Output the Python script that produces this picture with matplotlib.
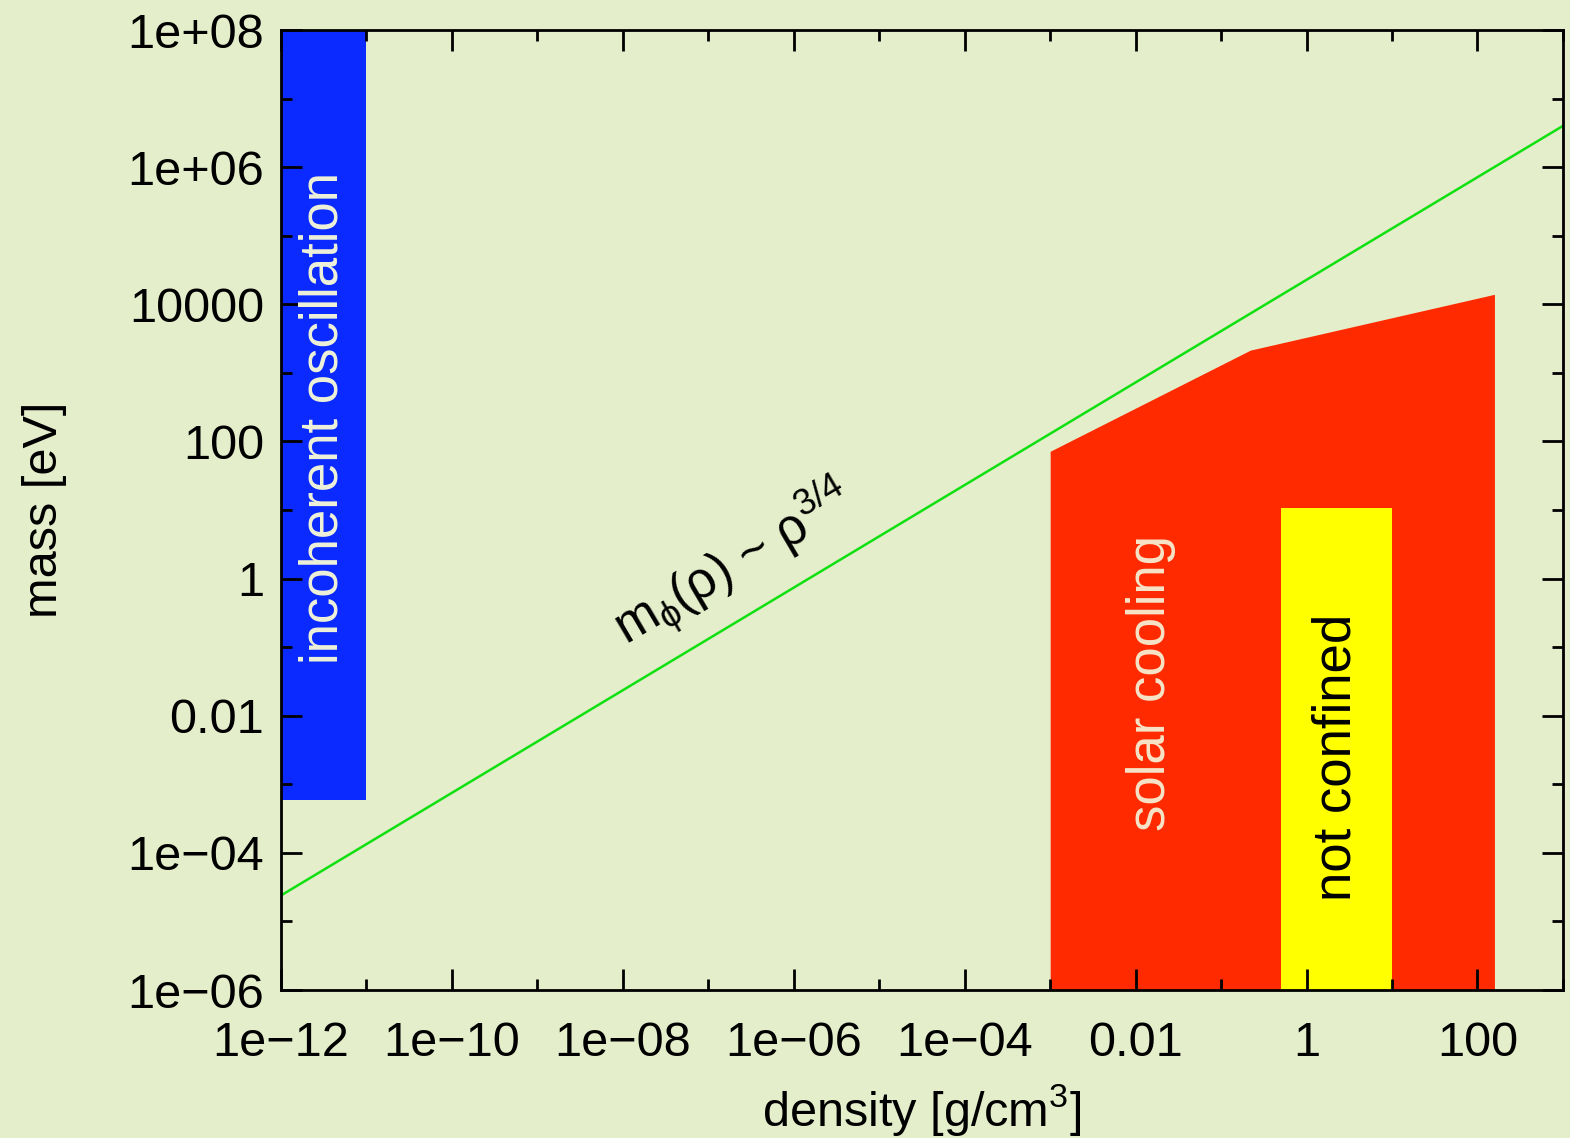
import numpy as np
import matplotlib
matplotlib.use("Agg")
import matplotlib.pyplot as plt

plt.rcParams['font.family'] = ['Liberation Sans', 'DejaVu Sans']
plt.rcParams['mathtext.fontset'] = 'custom'
plt.rcParams['mathtext.rm'] = 'Liberation Sans'
plt.rcParams['mathtext.it'] = 'Liberation Sans'
plt.rcParams['mathtext.default'] = 'regular'

# chameleon line m(rho) ~ rho^(3/4)
line_rho = [1e-12, 1e3]
line_m = [2.4e-5, 4.0e6]

# excluded regions (density, mass)
incoh_rho = [1e-12, 1e-11]
incoh_m = [6e-4, 1e8]

solar_rho = [1e-3, 0.22, 158]
solar_m = [72, 2150, 14000]

notconf_rho = [0.5, 10]
notconf_m = [1e-6, 10.7]

xticks = [1e-12, 1e-10, 1e-8, 1e-6, 1e-4, 1e-2, 1, 100]
xlabels = ["1e\u221212", "1e\u221210", "1e\u221208", "1e\u221206", "1e\u221204", "0.01", "1", "100"]
yticks = [1e-6, 1e-4, 1e-2, 1, 100, 1e4, 1e6, 1e8]
ylabels = ["1e\u221206", "1e\u221204", "0.01", "1", "100", "10000", "1e+06", "1e+08"]
xminor = [1e-11, 1e-9, 1e-7, 1e-5, 1e-3, 0.1, 10, 1000]
yminor = [1e-5, 1e-3, 0.1, 10, 1000, 1e5, 1e7]

bg = '#e4eecb'
fig = plt.figure(figsize=(15.7, 11.38), dpi=100, facecolor=bg)
ax = fig.add_axes([0.179, 0.130, 0.8165, 0.8436], facecolor=bg)
ax.set_xscale('log')
ax.set_yscale('log')
ax.set_xlim(1e-12, 1e3)
ax.set_ylim(1e-6, 1e8)

ax.fill_between(incoh_rho, incoh_m[0], incoh_m[1], color='#0a2aff', lw=0)
ax.fill_between([solar_rho[0]] + solar_rho, [1e-6] * 4, [solar_m[0]] + solar_m,
                color='#ff2a00', lw=0)
ax.fill_between(notconf_rho, notconf_m[0], notconf_m[1], color='#ffff00', lw=0)
ax.plot(line_rho, line_m, color='#10e010', lw=1.8)

ax.text(np.sqrt(incoh_rho[0] * incoh_rho[1]), 220, 'incoherent oscillation',
        rotation=90, ha='center', va='center', color='#eef2d8', fontsize=38)
ax.text(0.015, 0.03, 'solar cooling', rotation=90, ha='center', va='center',
        color='#f6e4c8', fontsize=38)
ax.text(2.24, 0.0025, 'not confined', rotation=90, ha='center', va='center',
        color='black', fontsize=38)
ax.text(2e-7, 1.6, r'm$_{\phi}$(ρ) ~ ρ$^{3/4}$', rotation=30.5,
        ha='center', va='center', fontsize=37, rotation_mode='anchor')

ax.set_xticks(xticks)
ax.set_xticklabels(xlabels)
ax.set_yticks(yticks)
ax.set_yticklabels(ylabels)
ax.set_xticks(xminor, minor=True)
ax.set_yticks(yminor, minor=True)
ax.xaxis.set_minor_formatter(matplotlib.ticker.NullFormatter())
ax.yaxis.set_minor_formatter(matplotlib.ticker.NullFormatter())
ax.tick_params(which='both', direction='in', top=True, right=True,
               labelsize=35, width=2)
ax.tick_params(axis='x', which='major', pad=22)
ax.tick_params(axis='y', which='major', pad=12)
ax.tick_params(which='major', length=15)
ax.tick_params(which='minor', length=8)
for s in ax.spines.values():
    s.set_linewidth(2)

ax.set_xlabel('density [g/cm$^3$]', fontsize=35, labelpad=12)
ax.set_ylabel('mass [eV]', fontsize=35, labelpad=44)

fig.savefig('out.png', dpi=100, facecolor=bg)
